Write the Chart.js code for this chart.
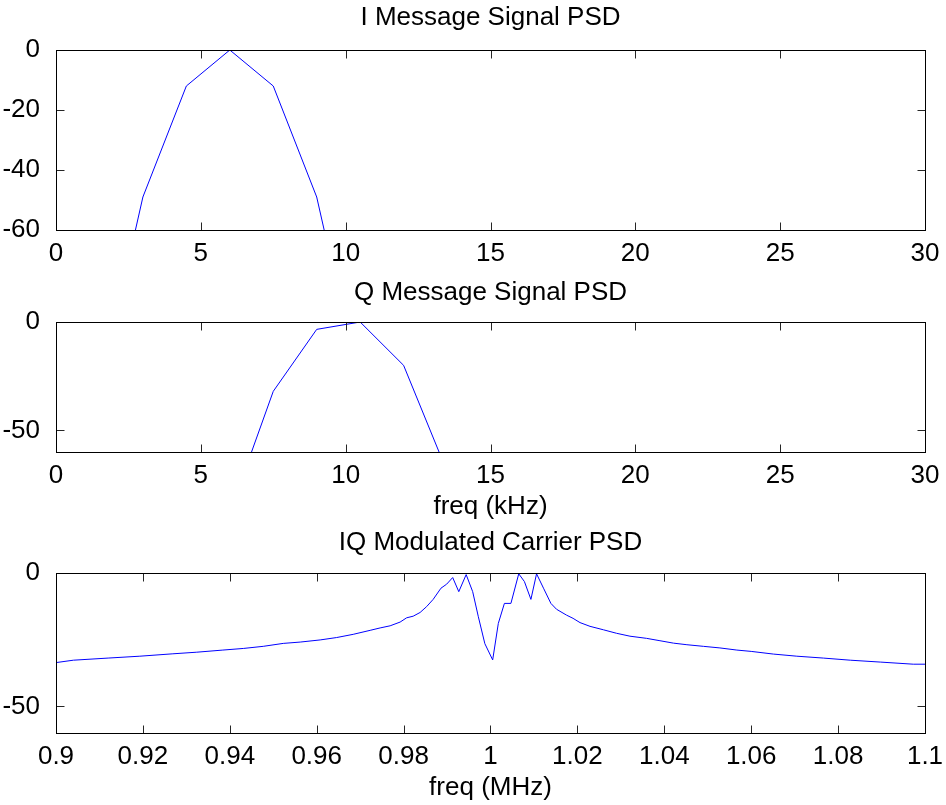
<!DOCTYPE html>
<html>
<head>
<meta charset="utf-8">
<script src="https://cdn.jsdelivr.net/npm/chart.js@4.4.1/dist/chart.umd.min.js"></script>
<style>
html, body { margin:0; padding:0; background:#fff; }
#wrap { position:relative; width:946px; height:805px; overflow:hidden; }
.panel { position:absolute; left:0; width:946px; }
</style>
</head>
<body>
<div id="wrap">
  <div class="panel" style="top:0px; height:270px"><canvas id="c-i"></canvas></div>
  <div class="panel" style="top:270px; height:252px"><canvas id="c-q"></canvas></div>
  <div class="panel" style="top:520px; height:284px"><canvas id="c-iq"></canvas></div>
</div>
<script>
// ---- 데이터 ----
// I 메시지 (kHz, dB)
const iFreq = [1.5, 3, 4.5, 6, 7.5, 9, 10.5];
const iPsd  = [-113, -49, -12, 0, -12, -49, -113];

// Q 메시지 (kHz, dB)
const qFreq = [6, 7.5, 9, 10.5, 12, 13.5];
const qPsd  = [-88, -32, -3.4, 0, -20, -69];

// IQ 변조 캐리어 (MHz, dB)
const carFreq = [
  0.9000, 0.9040, 0.9120, 0.9193, 0.9269, 0.9324, 0.9384, 0.9431, 0.9477, 0.9523,
  0.9562, 0.9608, 0.9646, 0.9684, 0.9723, 0.9746, 0.9769, 0.9792, 0.9807, 0.9822,
  0.9838, 0.9853, 0.9868, 0.9886, 0.9899, 0.9913, 0.9927, 0.9944, 0.9959, 0.9972,
  0.9987, 1.0005, 1.0018, 1.0032, 1.0047, 1.0065, 1.0078, 1.0093, 1.0106, 1.0122,
  1.0139, 1.0152, 1.0175, 1.0190, 1.0206, 1.0229, 1.0260, 1.0290, 1.0321, 1.0359,
  1.0390, 1.0421, 1.0452, 1.0490, 1.0528, 1.0567, 1.0600, 1.0651, 1.0705, 1.0766,
  1.0828, 1.0897, 1.0973, 1.1000
];
const carPsd = [
  -33.6, -32.7, -31.9, -31.2, -30.3, -29.7, -28.9, -28.3, -27.5, -26.4,
  -25.9, -25.1, -24.2, -23.0, -21.5, -20.6, -19.8, -18.4, -16.8, -16.2,
  -14.8, -12.6, -9.9, -5.7, -4.2, -1.7, -7.0, -0.6, -7.0, -16.4,
  -26.5, -32.6, -18.9, -11.4, -11.4, -0.3, -3.2, -9.9, -0.3, -5.7,
  -11.4, -13.6, -15.8, -17.0, -18.6, -20.0, -21.3, -22.6, -23.7, -24.5,
  -25.4, -26.3, -26.9, -27.5, -28.1, -28.9, -29.4, -30.4, -31.2, -31.9,
  -32.7, -33.4, -34.2, -34.2
];

// 눈금
const kHzTicks = [0, 5, 10, 15, 20, 25, 30];
const mHzTicks = [0.9, 0.92, 0.94, 0.96, 0.98, 1, 1.02, 1.04, 1.06, 1.08, 1.1];
const dbTicks1 = [-60, -40, -20, 0];
const dbTicks2 = [-50, 0];

// ---- 공통 ----
const el = (s, r=document) => r.querySelector(s);
const FONT = {family:"'Liberation Sans', Arial, Helvetica, sans-serif", size:26, weight:'normal', lineHeight:1.2};
Chart.defaults.devicePixelRatio = 1;

// MATLAB 스타일 박스 + 안쪽 눈금
const boxTicks = {
  id: 'boxTicks',
  afterDatasetsDraw(chart){
    const {ctx, chartArea:a, scales:{x, y}} = chart;
    const L = Math.round(a.left) + 0.5, R = Math.round(a.right) + 0.5;
    const T = Math.round(a.top) + 0.5, B = Math.round(a.bottom) + 0.5;
    ctx.save();
    ctx.lineWidth = 1;
    ctx.strokeStyle = '#262626';
    ctx.beginPath();
    x.ticks.forEach(t => {
      const px = Math.round(x.getPixelForValue(t.value)) + 0.5;
      ctx.moveTo(px, B); ctx.lineTo(px, B - 8);
      ctx.moveTo(px, T); ctx.lineTo(px, T + 8);
    });
    y.ticks.forEach(t => {
      const py = Math.round(y.getPixelForValue(t.value)) + 0.5;
      ctx.moveTo(L, py); ctx.lineTo(L + 8, py);
      ctx.moveTo(R, py); ctx.lineTo(R - 8, py);
    });
    ctx.stroke();
    ctx.strokeStyle = '#000';
    ctx.strokeRect(L, T, R - L, B - T);
    ctx.restore();
  }
};

function panel(id, xs, ys, o){
  return new Chart(el(id), {
    type: 'line',
    data: {
      datasets: [{
        data: xs.map((v, i) => ({x:v, y:ys[i]})),
        borderColor: '#0000ff',
        borderWidth: 1,
        pointRadius: 0,
        tension: 0,
        clip: 0
      }]
    },
    options: {
      responsive: true,
      maintainAspectRatio: false,
      animation: false,
      layout: { padding: {left:0, right:21, top:0, bottom:0} },
      plugins: {
        legend: { display:false },
        tooltip: { enabled:false },
        title: {
          display: true, text: o.title, color: '#000', font: FONT,
          fullSize: false, // 제목은 축 영역 위 가운데
          padding: {top:o.tPad[0], bottom:o.tPad[1]}
        }
      },
      scales: {
        x: {
          type: 'linear', min: o.xMin, max: o.xMax,
          grid: { display:false }, border: { display:false },
          afterBuildTicks: s => { s.ticks = o.xTicks.map(v => ({value:v})); },
          afterFit: s => { s.height = o.xH; },
          ticks: {
            color: '#000', font: FONT, padding: 0, maxRotation: 0, autoSkip: false,
            callback: v => String(+(+v).toFixed(2))
          },
          title: {
            display: !!o.xTitle, text: o.xTitle || '', color: '#000', font: FONT,
            padding: {top:0, bottom:o.xtPad || 0}
          }
        },
        y: {
          type: 'linear', min: -60, max: 0,
          grid: { display:false }, border: { display:false },
          afterBuildTicks: s => { s.ticks = o.yTicks.map(v => ({value:v})); },
          afterFit: s => { s.width = 56; },
          ticks: { color: '#000', font: FONT, padding: 8, autoSkip: false }
        }
      }
    },
    plugins: [boxTicks]
  });
}

panel('#c-i', iFreq, iPsd, {
  title: 'I Message Signal PSD', tPad: [2.4, 16.4],
  xMin: 0, xMax: 30, xTicks: kHzTicks, xH: 40, yTicks: dbTicks1
});
panel('#c-q', qFreq, qPsd, {
  title: 'Q Message Signal PSD', tPad: [7.1, 13.7],
  xMin: 0, xMax: 30, xTicks: kHzTicks, xH: 70, yTicks: dbTicks2,
  xTitle: 'freq (kHz)', xtPad: 0
});
panel('#c-iq', carFreq, carPsd, {
  title: 'IQ Modulated Carrier PSD', tPad: [7.1, 14.7],
  xMin: 0.9, xMax: 1.1, xTicks: mHzTicks, xH: 71, yTicks: dbTicks2,
  xTitle: 'freq (MHz)', xtPad: 0.4
});
</script>
</body>
</html>
